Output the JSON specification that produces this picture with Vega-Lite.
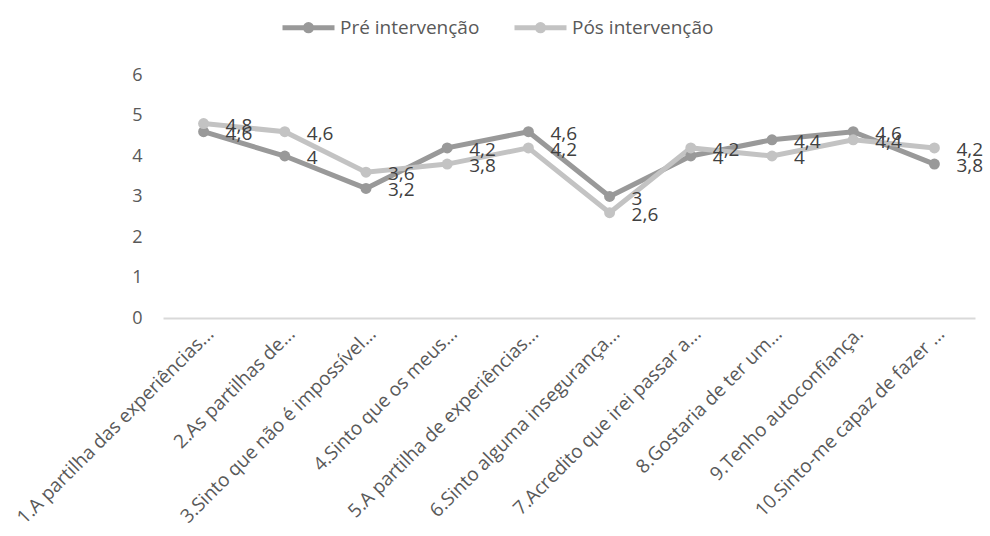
{
  "$schema": "https://vega.github.io/schema/vega-lite/v6.json",
  "width": 812,
  "height": 243,
  "autosize": {"type": "none"},
  "padding": {"left": 163, "top": 75, "right": 15, "bottom": 218},
  "background": "white",
  "config": {
    "view": {"stroke": null},
    "font": "Open Sans",
    "locale": {"number": {"decimal": ",", "thousands": ".", "grouping": [3], "currency": ["", "€"]}}
  },
  "data": {
    "values": [
      {"item": "1.A partilha das experiências...", "grupo": "Pré intervenção", "valor": 4.6},
      {"item": "2.As partilhas de...", "grupo": "Pré intervenção", "valor": 4},
      {"item": "3.Sinto que não é impossível...", "grupo": "Pré intervenção", "valor": 3.2},
      {"item": "4.Sinto que os meus...", "grupo": "Pré intervenção", "valor": 4.2},
      {"item": "5.A partilha de experiências...", "grupo": "Pré intervenção", "valor": 4.6},
      {"item": "6.Sinto alguma insegurança...", "grupo": "Pré intervenção", "valor": 3},
      {"item": "7.Acredito que irei passar a...", "grupo": "Pré intervenção", "valor": 4},
      {"item": "8.Gostaria de ter um...", "grupo": "Pré intervenção", "valor": 4.4},
      {"item": "9.Tenho autoconfiança.", "grupo": "Pré intervenção", "valor": 4.6},
      {"item": "10.Sinto-me capaz de fazer ...", "grupo": "Pré intervenção", "valor": 3.8},
      {"item": "1.A partilha das experiências...", "grupo": "Pós intervenção", "valor": 4.8},
      {"item": "2.As partilhas de...", "grupo": "Pós intervenção", "valor": 4.6},
      {"item": "3.Sinto que não é impossível...", "grupo": "Pós intervenção", "valor": 3.6},
      {"item": "4.Sinto que os meus...", "grupo": "Pós intervenção", "valor": 3.8},
      {"item": "5.A partilha de experiências...", "grupo": "Pós intervenção", "valor": 4.2},
      {"item": "6.Sinto alguma insegurança...", "grupo": "Pós intervenção", "valor": 2.6},
      {"item": "7.Acredito que irei passar a...", "grupo": "Pós intervenção", "valor": 4.2},
      {"item": "8.Gostaria de ter um...", "grupo": "Pós intervenção", "valor": 4},
      {"item": "9.Tenho autoconfiança.", "grupo": "Pós intervenção", "valor": 4.4},
      {"item": "10.Sinto-me capaz de fazer ...", "grupo": "Pós intervenção", "valor": 4.2}
    ]
  },
  "encoding": {
    "x": {
      "field": "item", "type": "nominal", "sort": null,
      "scale": {"type": "point", "padding": 0.5},
      "axis": {
        "title": null, "labelAngle": -45, "labelFontSize": 19, "labelColor": "#595959",
        "labelLimit": 400, "ticks": false, "domainColor": "#d9d9d9", "domainWidth": 2,
        "labelPadding": 6, "grid": false
      }
    },
    "y": {
      "field": "valor", "type": "quantitative",
      "scale": {"domain": [0, 6], "nice": false},
      "axis": {
        "title": null, "values": [0, 1, 2, 3, 4, 5, 6], "grid": false, "domain": false,
        "ticks": false, "labelFontSize": 18, "labelColor": "#595959", "labelPadding": 21
      }
    },
    "color": {
      "field": "grupo", "type": "nominal", "sort": ["Pré intervenção", "Pós intervenção"],
      "scale": {"domain": ["Pré intervenção", "Pós intervenção"], "range": ["#999999", "#c3c3c3"]},
      "legend": {
        "title": null, "orient": "none", "direction": "horizontal", "legendX": 117, "legendY": -76,
        "symbolType": "M-1,0L1,0M-0.12,0A0.12,0.12 0 1,0 0.12,0A0.12,0.12 0 1,0 -0.12,0",
        "symbolSize": 2704, "symbolStrokeWidth": 5, "labelFontSize": 19, "labelColor": "#595959",
        "labelOffset": 3, "columnPadding": 24,
        "encode": {"symbols": {"update": {"stroke": {"scale": "color", "field": "value"}, "fill": {"scale": "color", "field": "value"}, "strokeWidth": {"value": 5}}}}
      }
    }
  },
  "layer": [
    {"mark": {"type": "line", "strokeWidth": 5}},
    {"mark": {"type": "point", "filled": true, "size": 120, "opacity": 1}},
    {
      "mark": {"type": "text", "align": "left", "baseline": "middle", "dx": 22, "dy": 2, "fontSize": 19, "color": "#404040"},
      "encoding": {"text": {"field": "valor", "type": "quantitative", "format": ".1~f"}, "color": {"value": "#404040"}}
    }
  ]
}
